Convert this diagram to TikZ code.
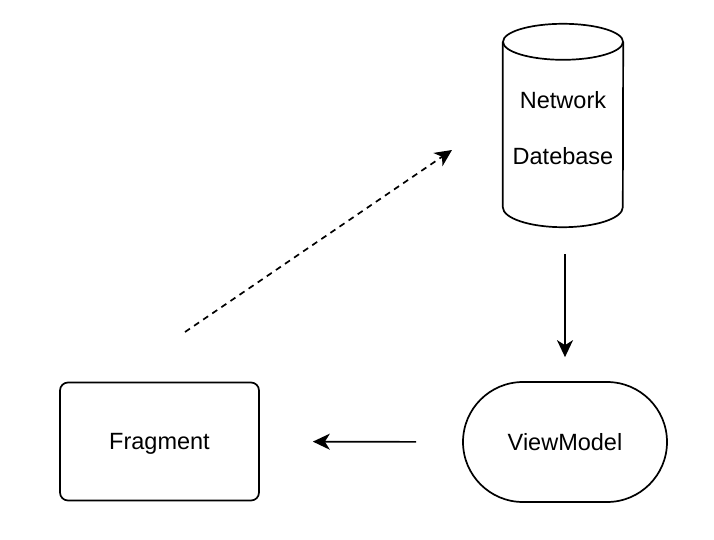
\documentclass[tikz,border=0pt]{standalone}
\usepackage{fontspec}
\setmainfont{Liberation Sans}
\usetikzlibrary{arrows.meta,calc}
\begin{document}
\begin{tikzpicture}[x=1pt,y=-1pt,
  every node/.style={font=\fontsize{23.5}{28}\selectfont, inner sep=0pt, text height=16.8pt, text depth=0pt},
  outline/.style={draw=black, line width=1.7pt},
  flow/.style={line width=1.7pt, -{Stealth[length=17pt,width=16pt,inset=5pt]}},
  dashflow/.style={flow, dash pattern=on 6pt off 5pt}
]
\useasboundingbox (0,0) rectangle (714,540);

% database cylinder
\node[minimum width=120pt, minimum height=203pt] (db) at (563,125.5) {};
\draw[outline, fill=white] ($(db.north west)+(0,18)$) -- ($(db.south west)+(0,-20)$)
  arc[start angle=180, end angle=360, x radius=60pt, y radius=20pt]
  -- ($(db.north east)+(0,18)$);
\draw[outline] ($(db.north)+(0,18)$) ellipse[x radius=60pt, y radius=18pt];
\node (net) at (563,100) {Network};
\node (dbase) at (563,156) {Datebase};

% fragment
\node[outline, rounded corners=8pt, minimum width=199pt, minimum height=118pt] (frag) at (159.5,441.5) {Fragment};

% view model
\node[outline, rounded corners=60pt, minimum width=204pt, minimum height=120pt] (vm) at (565,442) {ViewModel};

% connectors
\draw[flow, shorten <=27pt, shorten >=24pt] (vm.north |- db.south) -- (vm.north);
\draw[flow, shorten <=46pt, shorten >=53pt] (vm.west) -- (frag.east);
\coordinate (req) at (185,332);
\coordinate (reqend) at (452,150);
\draw[dashflow] (req) -- (reqend);
\end{tikzpicture}
\end{document}
